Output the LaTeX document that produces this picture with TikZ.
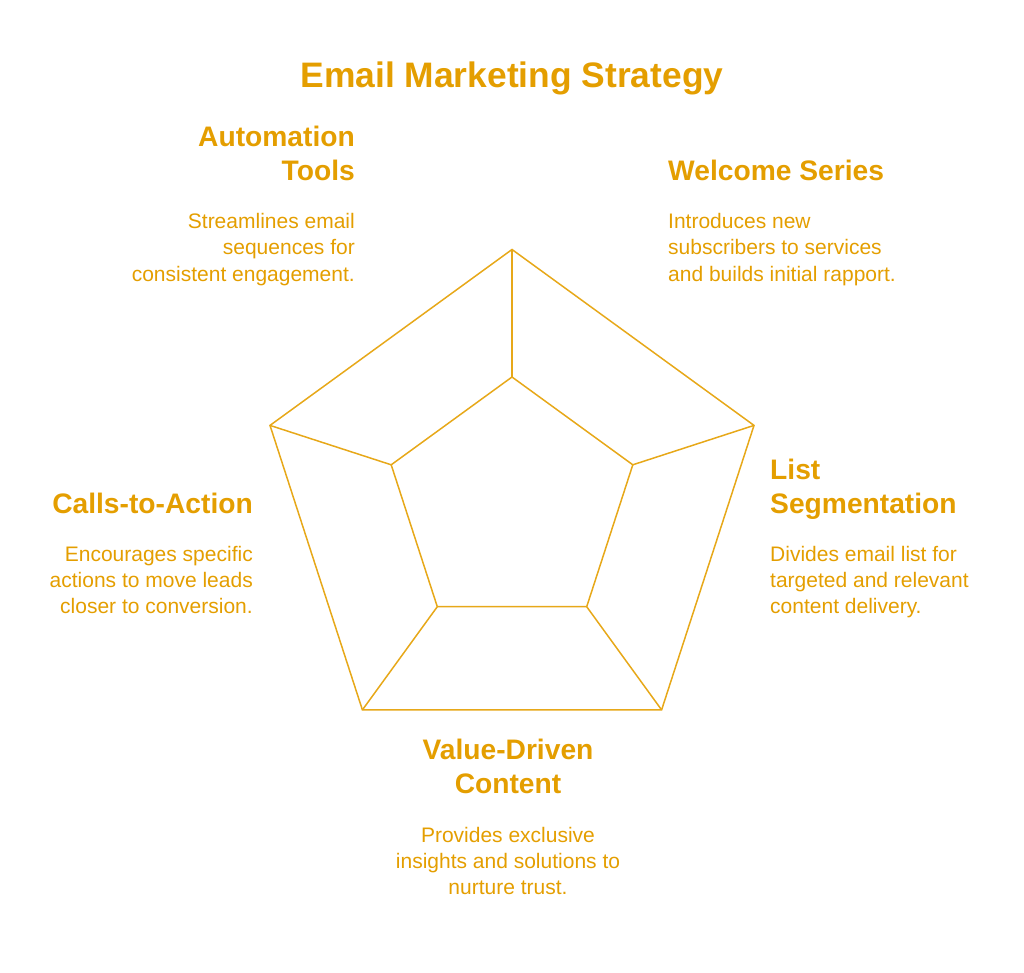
\documentclass[tikz,border=0pt]{standalone}
\usepackage{fontspec}
\setmainfont{Liberation Sans}
\definecolor{gold}{RGB}{228,158,0}
\tikzset{
  edge/.style={draw=gold!90!white, line width=1.5pt, line join=miter},
  heading/.style={text=gold, inner sep=0pt, font=\fontsize{28.2}{34}\selectfont\bfseries},
  blurb/.style={text=gold, inner sep=0pt, font=\fontsize{21}{26}\selectfont},
}
\begin{document}
\begin{tikzpicture}[x=1pt, y=-1pt]
    \useasboundingbox (0,0) rectangle (1024,973);
    % outer pentagon
    \coordinate (o1) at (512,249.5);
    \coordinate (o2) at (754,425.4);
    \coordinate (o3) at (661.6,709.9);
    \coordinate (o4) at (362.4,709.9);
    \coordinate (o5) at (270,425.4);
    % inner pentagon
    \coordinate (i1) at (512,377);
    \coordinate (i2) at (632.8,464.8);
    \coordinate (i3) at (586.7,606.7);
    \coordinate (i4) at (437.3,606.7);
    \coordinate (i5) at (391.2,464.8);
    \draw[edge] (o1) -- (o2) -- (o3) -- (o4) -- (o5) -- cycle;
    \draw[edge] (i1) -- (i2) -- (i3) -- (i4) -- (i5) -- cycle;
    \foreach \k in {1,...,5}
      \draw[edge] (o\k) -- (i\k);
    % title
    \node[text=gold, inner sep=0pt, anchor=base, font=\fontsize{35.4}{40}\selectfont\bfseries]
      (title) at (512,88) {Email Marketing Strategy};
    % labels round the pentagon (base = last line)
    \node[heading, align=right, anchor=base east] (tools) at (355,181) {Automation\\Tools};
    \node[blurb, align=right, anchor=base east] (toolstxt) at (355,281) {Streamlines email\\sequences for\\consistent engagement.};
    \node[heading, align=left, anchor=base west] (welcome) at (668,181) {Welcome Series};
    \node[blurb, align=left, anchor=base west] (welcometxt) at (668,281) {Introduces new\\subscribers to services\\and builds initial rapport.};
    \node[heading, align=right, anchor=base east] (calls) at (253,513) {Calls-to-Action};
    \node[blurb, align=right, anchor=base east] (callstxt) at (253,613) {Encourages specific\\actions to move leads\\closer to conversion.};
    \node[heading, align=left, anchor=base west] (lists) at (770,513) {List\\Segmentation};
    \node[blurb, align=left, anchor=base west] (liststxt) at (770,613) {Divides email list for\\targeted and relevant\\content delivery.};
    \node[heading, align=center, anchor=base] (value) at (508,793) {Value-Driven\\Content};
    \node[blurb, align=center, anchor=base] (valuetxt) at (508,894) {Provides exclusive\\insights and solutions to\\nurture trust.};
\end{tikzpicture}
\end{document}
